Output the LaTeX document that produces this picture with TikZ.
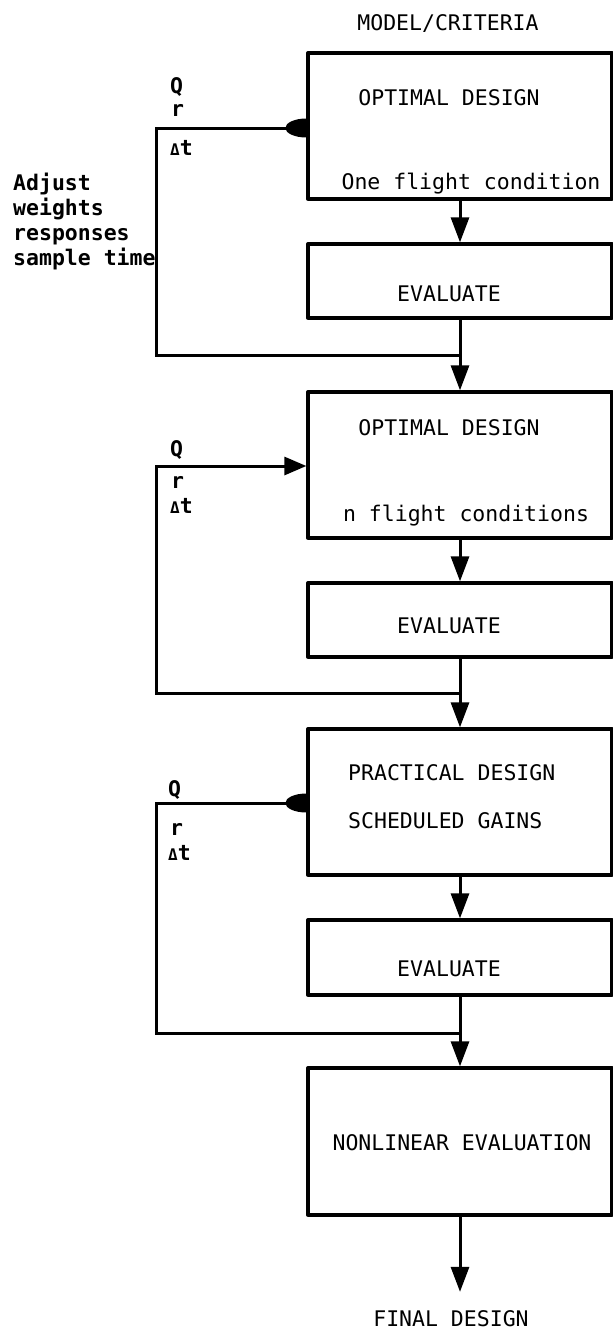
\documentclass[tikz,border=0pt]{standalone}
\usepackage{fontspec}
\newfontfamily\twfont{DejaVu Sans Mono}
\usetikzlibrary{arrows.meta}
\begin{document}
\begin{tikzpicture}[x=1pt,y=-1pt,
  box/.style={draw, line width=3.3pt, minimum width=304pt, inner sep=0pt, line join=round},
  txt/.style={font=\twfont\fontsize{21.5}{25}\selectfont, inner sep=0pt, anchor=base},
  lbl/.style={font=\twfont\bfseries\fontsize{21.5}{25}\selectfont, inner sep=0pt, anchor=base west},
  flow/.style={line width=3pt, -{Triangle[length=25pt,width=18pt]}},
  fb/.style={line width=3pt, line join=miter},
  fbtri/.style={fb, -{Triangle[length=22pt,width=18pt]}},
]
\path[use as bounding box] (0,0) rectangle (613,1336);

% boxes
\node[box, minimum height=146pt] (o1) at (460,126) {};
\node[box, minimum height=74pt]  (o2) at (460,281) {};
\node[box, minimum height=146pt] (o3) at (460,465) {};
\node[box, minimum height=74pt]  (o4) at (460,620) {};
\node[box, minimum height=146pt] (o5) at (460,802) {};
\node[box, minimum height=75pt]  (o6) at (460,957.5) {};
\node[box, minimum height=147pt] (o7) at (460,1141.5) {};

% texts
\node[txt] (mc)  at (448,30)  {MODEL/CRITERIA};
\node[txt] (t1a) at (449,105) {OPTIMAL DESIGN};
\node[txt] (t1b) at (471,189) {One flight condition};
\node[txt] (t2)  at (449,301) {EVALUATE};
\node[txt] (t3a) at (449,435) {OPTIMAL DESIGN};
\node[txt] (t3b) at (466,521) {n flight conditions};
\node[txt] (t4)  at (449,633) {EVALUATE};
\node[txt, anchor=base west] (t5a) at (348,780) {PRACTICAL DESIGN};
\node[txt, anchor=base west] (t5b) at (348,828) {SCHEDULED GAINS};
\node[txt] (t6)  at (449,976) {EVALUATE};
\node[txt] (t7)  at (462,1150) {NONLINEAR EVALUATION};
\node[txt] (fd)  at (451,1326) {FINAL DESIGN};

% left labels
\node[lbl] (a1) at (13,190) {Adjust};
\node[lbl] (a2) at (13,215) {weights};
\node[lbl] (a3) at (13,240) {responses};
\node[lbl] (a4) at (13,265) {sample time};

\node[lbl] (q1) at (170,93)  {Q};
\node[lbl] (r1) at (171,116) {r};
\node[lbl] (d1) at (170,155) {{\fontsize{16}{16}\selectfont Δ}t};
\node[lbl] (q2) at (170,456) {Q};
\node[lbl] (r2) at (171,488) {r};
\node[lbl] (d2) at (170,513) {{\fontsize{16}{16}\selectfont Δ}t};
\node[lbl] (q3) at (168,796) {Q};
\node[lbl] (r3) at (170,835) {r};
\node[lbl] (d3) at (168,860) {{\fontsize{16}{16}\selectfont Δ}t};

% main flow
\draw[flow] (o1) -- (o2);
\draw[flow] (o2) -- (o3);
\draw[flow] (o3) -- (o4);
\draw[flow] (o4) -- (o5);
\draw[flow] (o5) -- (o6);
\draw[flow] (o6) -- (o7);
\draw[flow, shorten >=18pt] (o7.south) -- (o7.south |- fd.north);

% feedback loops
\coordinate (j1) at (460,355);  \coordinate (c1) at (156,128);
\coordinate (j2) at (460,693);  \coordinate (c2) at (156,466);
\coordinate (j3) at (460,1033); \coordinate (c3) at (156,803);

\draw[fb] (j1) -| (c1) -- (c1 -| o1.west);
\fill (c1 -| o1.west) ++(0,-9.5) arc[start angle=270, end angle=90, x radius=21, y radius=9.5] -- cycle;

\draw[fbtri] (j2) -| (c2) -- (c2 -| o3.west);

\draw[fb] (j3) -| (c3) -- (c3 -| o5.west);
\fill (c3 -| o5.west) ++(0,-9.5) arc[start angle=270, end angle=90, x radius=21, y radius=9.5] -- cycle;
\end{tikzpicture}
\end{document}
